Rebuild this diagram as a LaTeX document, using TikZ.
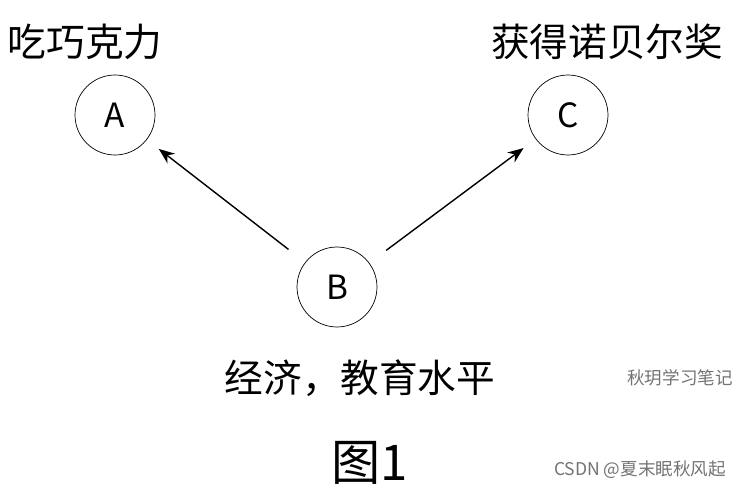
\documentclass[tikz,border=0pt]{standalone}
\usepackage{fontspec}
\setmainfont{Noto Sans CJK SC}
\usetikzlibrary{arrows.meta}
\begin{document}
\begin{tikzpicture}[x=0.02cm,y=-0.02cm,
  circ/.style={draw,circle,minimum size=1.6cm,inner sep=0pt,font=\fontsize{19}{22}\selectfont},
  lbl/.style={font=\fontsize{22}{26}\selectfont},
  wm/.style={text=black!55,font=\fontsize{10}{12}\selectfont},
  arr/.style={-{Stealth[length=9pt,width=7pt]},line width=0.8pt}]
\useasboundingbox (0,0) rectangle (750,500);
\node[circ] (A) at (115,115) {A};
\node[circ] (C) at (568,115) {C};
\node[circ] (B) at (337,287) {B};
\node[lbl] (la) at (85,42) {吃巧克力};
\node[lbl] (lc) at (607,42) {获得诺贝尔奖};
\node[lbl] (lb) at (360,378) {经济，教育水平};
\node[font=\fontsize{28}{32}\selectfont] (fig) at (370,463) {图1};
\draw[arr,shorten <=0.42cm,shorten >=0.3cm] (B) -- (A);
\draw[arr,shorten <=0.42cm,shorten >=0.3cm] (B) -- (C);
\node[wm] (w1) at (680,378) {秋玥学习笔记};
\node[wm] (w2) at (640,470) {CSDN @夏末眠秋风起};
\end{tikzpicture}
\end{document}
